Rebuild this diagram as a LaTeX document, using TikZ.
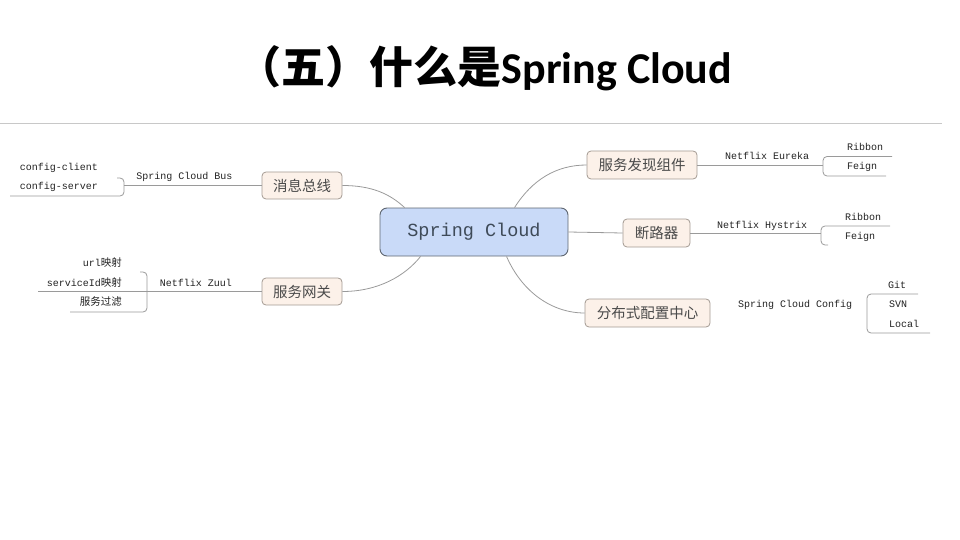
\documentclass[tikz,border=0pt]{standalone}
\usepackage{fontspec}
\newfontfamily\cjk{Noto Sans CJK SC}
\newfontfamily\monof{Liberation Mono}
\newfontfamily\calib{Carlito}
\usetikzlibrary{calc}
\definecolor{linegray}{HTML}{9A9A9A}
\definecolor{rulegray}{HTML}{C8C8C8}
\definecolor{boxfill}{HTML}{FCF1E9}
\definecolor{boxborder}{HTML}{A39A92}
\definecolor{topictext}{HTML}{4A4A4A}
\definecolor{centerfill}{HTML}{C9DAF8}
\definecolor{centerborder}{HTML}{5E6670}
\definecolor{centertext}{HTML}{3E4A58}
\definecolor{subtext}{HTML}{222222}
\begin{document}
\begin{tikzpicture}[x=1pt,y=-1pt,
  conn/.style={draw=linegray, line width=0.8pt},
  brk/.style={draw=linegray, line width=0.8pt, rounded corners=4pt},
  topic/.style={draw=boxborder, fill=boxfill, rounded corners=4pt, line width=0.8pt,
    inner sep=0pt, minimum height=27, font=\cjk\fontsize{14.5}{16}\selectfont, text=topictext},
  centerbox/.style={draw=centerborder, fill=centerfill, rounded corners=7pt, line width=0.9pt,
    inner sep=0pt, minimum width=188, minimum height=48,
    font=\monof\fontsize{18.5}{20}\selectfont, text=centertext},
  sub/.style={font=\monof\fontsize{10}{12}\selectfont, inner sep=0pt, text=subtext},
  subr/.style={sub, anchor=east}
]
\useasboundingbox (0,0) rectangle (960,540);

% title
\node (title) at (485,68) {\fontsize{44}{48}\selectfont{\cjk\bfseries （五）什么是}{\calib\bfseries Spring Cloud}};
\draw[rulegray, line width=1pt] (0,124) -- (942,124);

% central topic
\node[centerbox] (sc) at (474,232) {Spring Cloud};
\coordinate (sctl) at ($(sc.north west)+(25,0)$);
\coordinate (scbl) at ($(sc.south west)+(41,0)$);
\coordinate (sctr) at ($(sc.north west)+(135,0)$);
\coordinate (scbr) at ($(sc.south west)+(127,0)$);

% main topics
\node[topic, minimum width=80] (bus) at (302,185.5) {消息总线};
\node[topic, minimum width=80] (gw) at (302,291.5) {服务网关};
\node[topic, minimum width=110, minimum height=28] (disc) at (642,165) {服务发现组件};
\node[topic, minimum width=67, minimum height=28] (cb) at (656.5,233) {断路器};
\node[topic, minimum width=125, minimum height=28] (cfg) at (647.5,313) {分布式配置中心};

\draw[conn] (sctl) .. controls (390,194) and (372,185.5) .. (bus.east);
\draw[conn] (scbl) .. controls (405,276) and (378,291.5) .. (gw.east);
\draw[conn] (sctr) .. controls (532,180) and (556,165) .. (disc.west);
\draw[conn] (sc.east) -- (cb.west);
\draw[conn] (scbr) .. controls (522,292) and (552,313) .. (cfg.west);

% Spring Cloud Bus branch
\node[sub] (busl) at (184.5,177) {Spring Cloud Bus};
\coordinate (busj) at (124,185.5);
\draw[conn] (bus.west) -- (busj);
\node[sub] (cc) at (59,168) {config-client};
\node[sub] (cs) at (59,187) {config-server};
\draw[brk] (117,178) -- (124,178) -- (124,196) -- (10,196);

% Netflix Zuul branch
\node[sub] (zuul) at (196,283) {Netflix Zuul};
\coordinate (zuulend) at (38,291.5);
\draw[conn] (gw.west) -- (zuulend);
\node[subr] (url) at (122,263) {url{\cjk\fontsize{10.5}{12}\selectfont 映射}};
\node[subr] (sid) at (122,283) {serviceId{\cjk\fontsize{10.5}{12}\selectfont 映射}};
\node[subr] (filt) at (122,302) {{\cjk\fontsize{10.5}{12}\selectfont 服务过滤}};
\draw[brk] (140,272) -- (147,272) -- (147,312) -- (70,312);

% Netflix Eureka branch
\node[sub] (eur) at (767,156) {Netflix Eureka};
\coordinate (eurj) at (823,165);
\draw[conn] (disc.east) -- (eurj);
\node[sub] (rib1) at (865,147) {Ribbon};
\node[sub] (fei1) at (862,167) {Feign};
\draw[brk] (892,156.5) -- (823,156.5) -- (823,176) -- (886,176);

% Netflix Hystrix branch
\node[sub] (hys) at (762,225.5) {Netflix Hystrix};
\coordinate (hysj) at (821,233);
\draw[conn] (cb.east) -- (hysj);
\node[sub] (rib2) at (863,216.5) {Ribbon};
\node[sub] (fei2) at (860,236.5) {Feign};
\draw[brk] (890,226) -- (821,226) -- (821,245) -- (828,245);

% Spring Cloud Config branch
\node[sub] (scc) at (795,304.5) {Spring Cloud Config};
\node[sub] (git) at (897,285) {Git};
\node[sub] (svn) at (898,304.5) {SVN};
\node[sub] (loc) at (904,323.5) {Local};
\draw[brk] (918,294) -- (867,294) -- (867,333) -- (930,333);
\end{tikzpicture}
\end{document}
